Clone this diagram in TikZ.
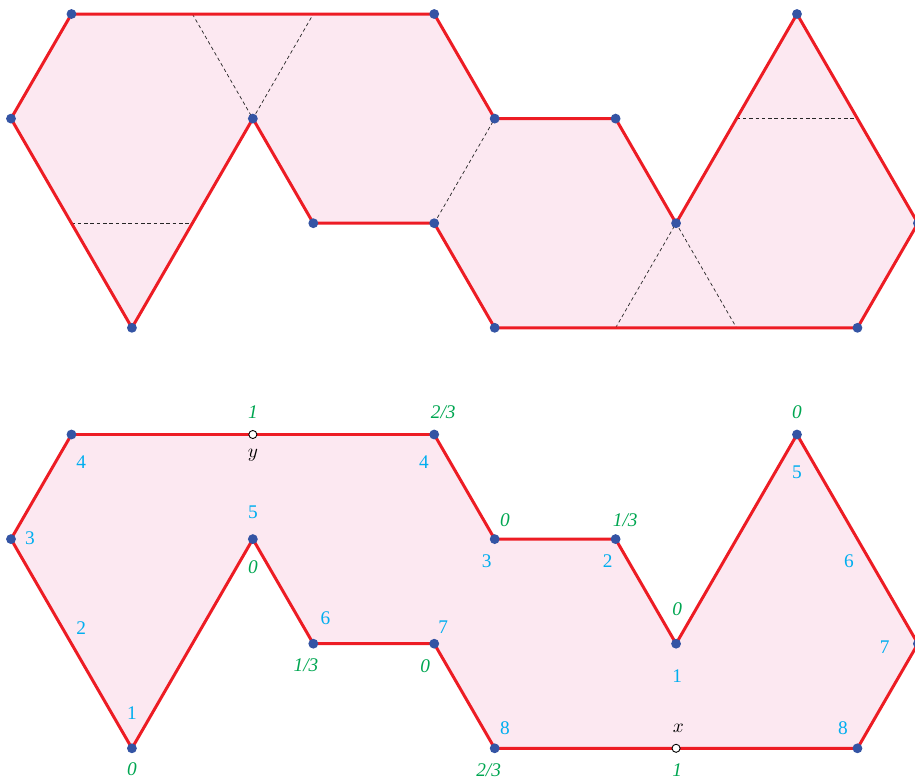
\documentclass[tikz,border=0pt]{standalone}
\usepackage{fontspec}
\setmainfont{Liberation Serif}
\usetikzlibrary{positioning}

\definecolor{netfill}{RGB}{252,232,241}
\definecolor{netred}{RGB}{237,28,36}
\definecolor{netdot}{RGB}{52,84,164}
\definecolor{numblue}{RGB}{0,174,239}
\definecolor{valgreen}{RGB}{0,166,81}

\tikzset{
  sheet/.style={fill=netfill},
  redline/.style={draw=netred, line width=1.7pt, line join=miter},
  fold/.style={draw=black!85, line width=0.4pt, dash pattern=on 2pt off 1.6pt},
  dot/.style={circle, fill=netdot, inner sep=0pt, minimum size=5.6pt},
  hole/.style={circle, draw=black, fill=white, line width=0.5pt, inner sep=0pt, minimum size=4.6pt},
  num/.style={text=numblue, font=\fontsize{11}{13}\selectfont, inner sep=0pt},
  val/.style={text=valgreen, font=\fontsize{11}{13}\selectfont\itshape, inner sep=0pt},
}

\begin{document}
\begin{tikzpicture}[x=1.2092cm, y=-2.092cm]
    \useasboundingbox (-0.182,-0.134) rectangle (14.952,7.323);

    % Folded net (top)
    \coordinate (ta) at (1,0);  \coordinate (tb) at (7,0);
    \coordinate (tc) at (8,1);  \coordinate (td) at (10,1);
    \coordinate (te) at (11,2); \coordinate (tf) at (13,0);
    \coordinate (tg) at (15,2); \coordinate (th) at (14,3);
    \coordinate (ti) at (8,3);  \coordinate (tj) at (7,2);
    \coordinate (tk) at (5,2);  \coordinate (tl) at (4,1);
    \coordinate (tm) at (2,3);  \coordinate (tn) at (0,1);

    \fill[sheet] (ta) -- (tb) -- (tc) -- (td) -- (te) -- (tf) -- (tg) -- (th)
        -- (ti) -- (tj) -- (tk) -- (tl) -- (tm) -- (tn) -- cycle;

    % fold lines
    \coordinate (f1) at (1,2);  \coordinate (f2) at (3,2);
    \coordinate (f3) at (3,0);  \coordinate (f4) at (5,0);
    \coordinate (f5) at (10,3); \coordinate (f6) at (12,3);
    \coordinate (f7) at (12,1); \coordinate (f8) at (14,1);
    \draw[fold] (f1) -- (f2);
    \draw[fold] (f3) -- (tl) -- (f4);
    \draw[fold] (tj) -- (tc);
    \draw[fold] (f5) -- (te) -- (f6);
    \draw[fold] (f7) -- (f8);

    \draw[redline] (ta) -- (tb) -- (tc) -- (td) -- (te) -- (tf) -- (tg) -- (th)
        -- (ti) -- (tj) -- (tk) -- (tl) -- (tm) -- (tn) -- cycle;

    \foreach \v in {a,b,c,d,e,f,g,h,i,j,k,l,m,n}
        \node[dot] (tdot\v) at (t\v) {};

    % Labelled net (bottom)
    \begin{scope}[shift={(0,4.02)}]
        \coordinate (ba) at (1,0);  \coordinate (bb) at (7,0);
        \coordinate (bc) at (8,1);  \coordinate (bd) at (10,1);
        \coordinate (be) at (11,2); \coordinate (bf) at (13,0);
        \coordinate (bg) at (15,2); \coordinate (bh) at (14,3);
        \coordinate (bi) at (8,3);  \coordinate (bj) at (7,2);
        \coordinate (bk) at (5,2);  \coordinate (bl) at (4,1);
        \coordinate (bm) at (2,3);  \coordinate (bn) at (0,1);

        \filldraw[sheet, redline] (ba) -- (bb) -- (bc) -- (bd) -- (be) -- (bf) -- (bg) -- (bh)
            -- (bi) -- (bj) -- (bk) -- (bl) -- (bm) -- (bn) -- cycle;

        \foreach \v in {a,b,c,d,e,f,g,h,i,j,k,l,m,n}
            \node[dot] (bdot\v) at (b\v) {};

        \node[hole] (ypt) at (4,0) {};
        \node[hole] (xpt) at (11,3) {};

        % point names
        \node[inner sep=0pt, font=\fontsize{11}{13}\selectfont] (ylbl) at (4.0,0.20) {$y$};
        \node[inner sep=0pt, font=\fontsize{11}{13}\selectfont] (xlbl) at (11.04,2.81) {$x$};

        % blue numbers
        \node[num] (n4a) at (1.16,0.26) {4};
        \node[num] (n3a) at (0.315,0.988) {3};
        \node[num] (n2a) at (1.16,1.85) {2};
        \node[num] (n1a) at (2.0,2.66) {1};
        \node[num] (n5a) at (4.0,0.74) {5};
        \node[num] (n6a) at (5.2,1.76) {6};
        \node[num] (n7a) at (7.15,1.84) {7};
        \node[num] (n4b) at (6.83,0.26) {4};
        \node[num] (n3b) at (7.87,1.21) {3};
        \node[num] (n2b) at (9.87,1.21) {2};
        \node[num] (n1b) at (11.02,2.31) {1};
        \node[num] (n8a) at (8.17,2.81) {8};
        \node[num] (n5b) at (13.0,0.36) {5};
        \node[num] (n6b) at (13.86,1.21) {6};
        \node[num] (n7b) at (14.45,2.03) {7};
        \node[num] (n8b) at (13.76,2.81) {8};

        % green values
        \node[val] (g1a) at (4.0,-0.21) {1};
        \node[val] (g23a) at (7.15,-0.21) {2/3};
        \node[val] (g0a) at (2.0,3.20) {0};
        \node[val] (g0b) at (4.0,1.27) {0};
        \node[val] (g13a) at (4.88,2.21) {1/3};
        \node[val] (g0c) at (6.85,2.21) {0};
        \node[val] (g0d) at (8.17,0.815) {0};
        \node[val] (g13b) at (10.16,0.815) {1/3};
        \node[val] (g0e) at (11.02,1.67) {0};
        \node[val] (g0f) at (13.0,-0.21) {0};
        \node[val] (g23b) at (7.9,3.21) {2/3};
        \node[val] (g1b) at (11.02,3.21) {1};
    \end{scope}
\end{tikzpicture}
\end{document}
